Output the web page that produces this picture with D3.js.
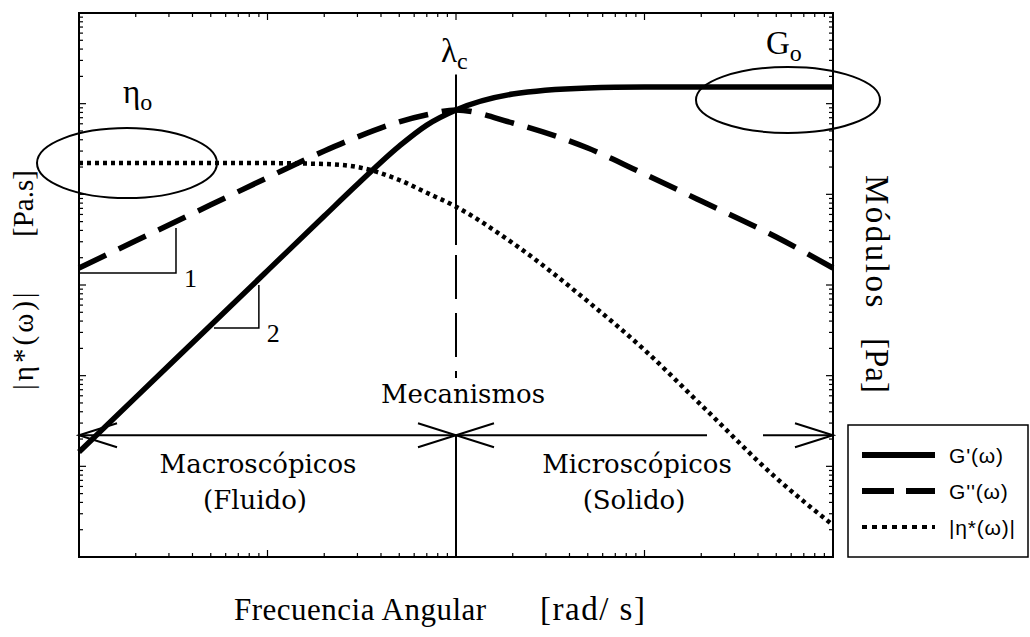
<!DOCTYPE html>
<html>
<head>
<meta charset="utf-8">
<script src="https://cdn.jsdelivr.net/npm/d3@7"></script>
<style>
  body { margin: 0; background: #fff; }
  svg { display: block; }
</style>
</head>
<body>
<svg id="chart" width="1030" height="637"></svg>
<script>
// Angular frequency (rad/s)
const omega = [0.01, 0.02, 0.05, 0.1, 0.2, 0.3, 0.5, 0.7, 1, 2, 5, 10, 20, 50, 100];
// Storage modulus G'(ω) [Pa]
const storageModulus = [14.4, 57.6, 360, 1440, 5760, 12900, 34000, 58000, 85100, 127600, 149000, 152700, 153000, 153000, 153000];
// Loss modulus G''(ω) [Pa]
const lossModulus = [1540, 3070, 7660, 15300, 30060, 42900, 63100, 75500, 85100, 61200, 32400, 16700, 8440, 3380, 1540];
// Complex viscosity |η*(ω)| [Pa.s]
const complexViscosity = [2210, 2210, 2210, 2210, 2160, 2000, 1440, 1040, 730, 290, 66, 19.2, 4.74, 0.743, 0.225];

const seriesNames = ["G'(ω)", "G''(ω)", "|η*(ω)|"];
const regionTitles = ["Macroscópicos", "Microscópicos"];
const regionStates = ["(Fluido)", "(Solido)"];
const lambdaC = 1;            // crossover frequency
const mechanismLevel = 22;    // modulus level of the mechanism arrows
const guideTopLevel = 2.1e5;  // top of the λc guide line
// slope markers: [ω start, ω end, modulus at base, modulus at top, label]
const slopeMarkers = [
  [0.01, 0.0327, 1356, 4250, "1"],
  [0.052, 0.090, 336, 1000, "2"]
];

const svg = d3.select("#chart");
const plot = { left: 79, right: 833, top: 13, bottom: 557 };

const x = d3.scaleLog().domain([0.01, 100]).range([plot.left, plot.right]);
const yMod = d3.scaleLog().domain([1, 1e6]).range([plot.bottom, plot.top]);
const yEta = d3.scaleLog().domain([0.1, 1e5]).range([plot.bottom, plot.top]);

const serif = "'Liberation Serif', 'Times New Roman', serif";
const slab = "'DejaVu Serif', serif";
const sans = "'Liberation Sans', Arial, sans-serif";

// ---- frame and inward log ticks ----
const g = svg.append("g");
g.append("rect")
  .attr("x", plot.left).attr("y", plot.top)
  .attr("width", plot.right - plot.left).attr("height", plot.bottom - plot.top)
  .attr("fill", "none").attr("stroke", "#000").attr("stroke-width", 2);

const isMajor = t => Math.abs(Math.log10(t) - Math.round(Math.log10(t))) < 1e-6;
const tickLen = t => isMajor(t) ? 7 : 4;

const xTicks = x.ticks().filter(t => t > 0.01 && t < 100);
g.selectAll("line.xb").data(xTicks).join("line")
  .attr("x1", d => x(d)).attr("x2", d => x(d))
  .attr("y1", plot.bottom).attr("y2", d => plot.bottom - tickLen(d))
  .attr("stroke", "#000").attr("stroke-width", 1.2);
g.selectAll("line.xt").data(xTicks).join("line")
  .attr("x1", d => x(d)).attr("x2", d => x(d))
  .attr("y1", plot.top).attr("y2", d => plot.top + tickLen(d))
  .attr("stroke", "#000").attr("stroke-width", 1.2);

const etaTicks = yEta.ticks().filter(t => t > 0.1 && t < 1e5);
g.selectAll("line.yl").data(etaTicks).join("line")
  .attr("y1", d => yEta(d)).attr("y2", d => yEta(d))
  .attr("x1", plot.left).attr("x2", d => plot.left + tickLen(d))
  .attr("stroke", "#000").attr("stroke-width", 1.2);

const modTicks = yMod.ticks().filter(t => t > 1 && t < 1e6);
g.selectAll("line.yr").data(modTicks).join("line")
  .attr("y1", d => yMod(d)).attr("y2", d => yMod(d))
  .attr("x1", plot.right).attr("x2", d => plot.right - tickLen(d))
  .attr("stroke", "#000").attr("stroke-width", 1.2);

// ---- λc guide line ----
const xc = x(lambdaC);
const yTopGuide = yMod(guideTopLevel);
const yArrow = yMod(mechanismLevel);
g.append("line").attr("x1", xc).attr("x2", xc).attr("y1", yTopGuide).attr("y2", 245)
  .attr("stroke", "#000").attr("stroke-width", 2);
g.append("line").attr("x1", xc).attr("x2", xc).attr("y1", 255).attr("y2", 378)
  .attr("stroke", "#000").attr("stroke-width", 2).attr("stroke-dasharray", "44,14");
g.append("line").attr("x1", xc).attr("x2", xc).attr("y1", yArrow).attr("y2", plot.bottom)
  .attr("stroke", "#000").attr("stroke-width", 2);

// ---- mechanism arrows ----
function chevron(tipX, dir) {
  const len = 38, spread = 12;
  return `M${tipX + dir * len},${yArrow - spread}L${tipX},${yArrow}L${tipX + dir * len},${yArrow + spread}`;
}
const arrows = g.append("g").attr("stroke", "#000").attr("stroke-width", 2).attr("fill", "none");
arrows.append("line").attr("x1", plot.left).attr("x2", xc).attr("y1", yArrow).attr("y2", yArrow);
arrows.append("line").attr("x1", xc).attr("x2", 707).attr("y1", yArrow).attr("y2", yArrow);
arrows.append("line").attr("x1", 763).attr("x2", plot.right).attr("y1", yArrow).attr("y2", yArrow);
arrows.append("path").attr("d", chevron(plot.left, 1));
arrows.append("path").attr("d", chevron(xc, -1));
arrows.append("path").attr("d", chevron(xc, 1));
arrows.append("path").attr("d", chevron(plot.right, -1));

// ---- curves ----
const lineMod = d3.line().x((d, i) => x(omega[i])).y(d => yMod(d)).curve(d3.curveMonotoneX);
const lineEta = d3.line().x((d, i) => x(omega[i])).y(d => yEta(d)).curve(d3.curveMonotoneX);

g.append("path").attr("d", lineEta(complexViscosity))
  .attr("fill", "none").attr("stroke", "#000").attr("stroke-width", 4.5)
  .attr("stroke-dasharray", "4,4");
g.append("path").attr("d", lineMod(lossModulus))
  .attr("fill", "none").attr("stroke", "#000").attr("stroke-width", 5.5)
  .attr("stroke-dasharray", "30,14");
g.append("path").attr("d", lineMod(storageModulus))
  .attr("fill", "none").attr("stroke", "#000").attr("stroke-width", 5.5);

// ---- slope markers ----
slopeMarkers.forEach(([w0, w1, v0, v1, label]) => {
  g.append("path")
    .attr("d", `M${x(w0)},${yMod(v0)}H${x(w1)}V${yMod(v1)}`)
    .attr("fill", "none").attr("stroke", "#000").attr("stroke-width", 1.5);
  g.append("text").attr("x", x(w1) + 8).attr("y", yMod(v0) + 14)
    .attr("font-family", serif).attr("font-size", 26).text(label);
});

// ---- plateau annotations ----
g.append("ellipse").attr("cx", 127).attr("cy", yEta(complexViscosity[0]))
  .attr("rx", 90).attr("ry", 35)
  .attr("fill", "none").attr("stroke", "#000").attr("stroke-width", 2);
g.append("ellipse").attr("cx", 788).attr("cy", yMod(storageModulus[storageModulus.length - 1]) + 13)
  .attr("rx", 92).attr("ry", 33)
  .attr("fill", "none").attr("stroke", "#000").attr("stroke-width", 2);

const sym = (tx, ty, main, sub) => {
  const t = g.append("text").attr("x", tx).attr("y", ty)
    .attr("font-family", serif).attr("font-size", 33);
  t.append("tspan").text(main);
  t.append("tspan").attr("font-size", 24).attr("dy", 7).text(sub);
};
sym(123, 103, "η", "o");
sym(766, 54, "G", "o");
sym(441, 62, "λ", "c");

// ---- region labels ----
const regionX = [258, 637];
const labelFont = 26;
g.append("text").attr("x", xc + 7).attr("y", 403).attr("text-anchor", "middle")
  .attr("font-family", slab).attr("font-size", labelFont)
  .text("Mecanismos");
regionTitles.forEach((t, i) => {
  g.append("text").attr("x", regionX[i]).attr("y", 473).attr("text-anchor", "middle")
    .attr("font-family", slab).attr("font-size", labelFont).text(t);
  g.append("text").attr("x", regionX[i] - 3).attr("y", 509).attr("text-anchor", "middle")
    .attr("font-family", slab).attr("font-size", labelFont).text(regionStates[i]);
});

// ---- axis titles ----
const leftTitle = svg.append("text").attr("transform", "translate(33,0) rotate(-90)")
  .attr("font-family", serif).attr("font-size", 29);
leftTitle.append("tspan").attr("x", -390).attr("letter-spacing", 3).text("|η*(ω)|");
leftTitle.append("tspan").attr("x", -237).text("[Pa.s]");

const rightTitle = svg.append("text").attr("transform", "translate(866,0) rotate(90)")
  .attr("font-family", serif).attr("font-size", 33);
rightTitle.append("tspan").attr("x", 175).attr("letter-spacing", 2.5).text("Módulos");
rightTitle.append("tspan").attr("x", 338).text("[Pa]");

const xTitle = svg.append("text").attr("y", 620)
  .attr("font-family", serif).attr("font-size", 31).attr("letter-spacing", 0.5);
xTitle.append("tspan").attr("x", 234).text("Frecuencia Angular");
xTitle.append("tspan").attr("x", 540).attr("font-size", 33).attr("letter-spacing", 1.5).text("[rad/ s]");

// ---- legend ----
const lg = svg.append("g");
lg.append("rect").attr("x", 848).attr("y", 425).attr("width", 180).attr("height", 132)
  .attr("fill", "#fff").attr("stroke", "#000").attr("stroke-width", 1.5);
const legendStyles = [
  { dash: null, w: 6 },
  { dash: "32,12", w: 6 },
  { dash: "5,5", w: 4 }
];
seriesNames.forEach((name, i) => {
  const ly = 455 + i * 36;
  lg.append("line").attr("x1", 862).attr("x2", 935).attr("y1", ly).attr("y2", ly)
    .attr("stroke", "#000").attr("stroke-width", legendStyles[i].w)
    .attr("stroke-dasharray", legendStyles[i].dash);
  lg.append("text").attr("x", 949).attr("y", ly + 8)
    .attr("font-family", sans).attr("font-size", 21).attr("letter-spacing", 0.8).text(name);
});
</script>
</body>
</html>
